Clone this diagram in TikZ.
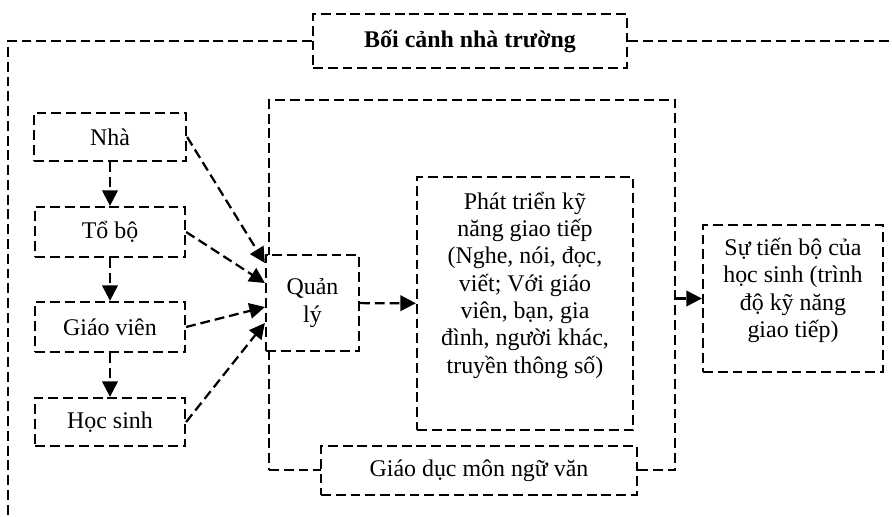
\documentclass[tikz,border=0pt]{standalone}
\usepackage{fontspec}
\setmainfont{Liberation Serif}
\usetikzlibrary{positioning,arrows.meta}

\begin{document}
\begin{tikzpicture}[node distance=2.375cm, font=\fontsize{17}{19.4}\selectfont,
        vien/.style={line width=1.6pt, dash pattern=on 7pt off 3.5pt},
        hop/.style={vien, draw, fill=white, align=center, inner sep=2pt},
        noi/.style={vien, -{Triangle[length=11pt,width=11pt]}}]
        \useasboundingbox (0,0) rectangle (22.3,-12.925);

        \node (title) [hop, font=\fontsize{17}{19.4}\selectfont\bfseries, minimum width=7.85cm, minimum height=1.35cm] at (11.75,-1.025) {Bối cảnh nhà trường};
        \coordinate (day) at (0.2,-12.925);
        \coordinate (phai) at (22.3,-1.025);

        \node (khung) [hop, fill=none, minimum width=10.15cm, minimum height=9.25cm] at (11.8,-7.125) {};

        \node (nha) [hop, minimum width=3.8cm, minimum height=1.2cm] at (2.75,-3.425) {Nhà};
        \node (tobo) [hop, minimum width=3.75cm, minimum height=1.25cm, below of=nha] {Tổ bộ};
        \node (gv) [hop, minimum width=3.75cm, minimum height=1.25cm, below of=tobo] {Giáo viên};
        \node (hs) [hop, minimum width=3.75cm, minimum height=1.2cm, below of=gv] {Học sinh};

        \node (quanly) [hop, minimum width=2.325cm, minimum height=2.4cm] at (7.8125,-7.575) {Quản\\lý};
        \node (phat) [hop, minimum width=5.4cm, minimum height=6.325cm] at (13.125,-7.5875) {};
        \node (phatchu) [align=center] at ([yshift=0.46cm]phat.center) {Phát triển kỹ\\năng giao tiếp\\(Nghe, nói, đọc,\\viết; Với giáo\\viên, bạn, gia\\đình, người khác,\\truyền thông số)};
        \node (giaoduc) [hop, minimum width=7.9cm, minimum height=1.225cm] at (11.975,-11.7625) {Giáo dục môn ngữ văn};
        \node (tienbo) [hop, minimum width=4.5cm, minimum height=3.675cm] at (19.825,-7.4625) {};
        \node (tienbochu) [align=center] at ([yshift=0.2cm]tienbo.center) {Sự tiến bộ của\\học sinh (trình\\độ kỹ năng\\giao tiếp)};

        \draw[vien] (title.west) -| (day);
        \draw[vien] (title.east) -- (phai);

        \draw[noi] (nha) -- (tobo);
        \draw[noi] (tobo) -- (gv);
        \draw[noi] (gv) -- (hs);
        \draw[noi] (nha.east) -- ([yshift=1cm]quanly.west);
        \draw[noi] (tobo.east) -- ([yshift=0.5cm]quanly.west);
        \draw[noi] (gv.east) -- ([yshift=-0.1cm]quanly.west);
        \draw[noi] (hs.east) -- ([yshift=-0.5cm]quanly.west);
        \draw[noi] (quanly) -- (phat);
        \draw[noi] (khung.east |- tienbo.west) -- (tienbo.west);
    \end{tikzpicture}
\end{document}
